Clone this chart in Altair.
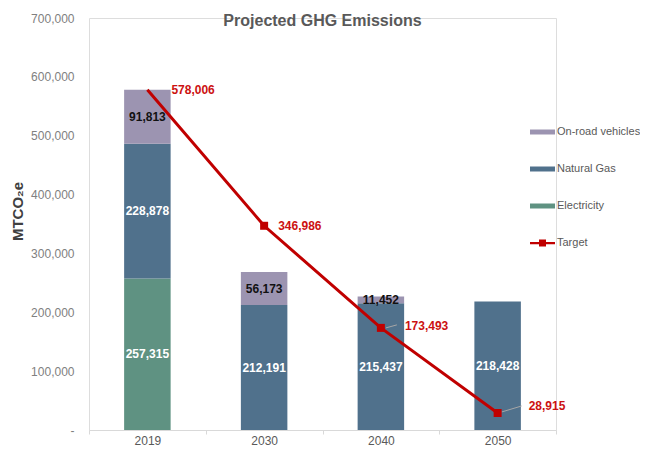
import altair as alt
import pandas as pd

# ---- data ----
years = ["2019", "2030", "2040", "2050"]
electricity = [257315, 0, 0, 0]
natural_gas = [228878, 212191, 215437, 218428]
onroad = [91813, 56173, 11452, 0]
target = [578006, 346986, 173493, 28915]

bar_series = ["On-road vehicles", "Natural Gas", "Electricity"]
bar_colors = ["#9c94b1", "#50718c", "#5f9282"]
target_color = "#c00000"
y_ticks = [0, 100000, 200000, 300000, 400000, 500000, 600000, 700000]

FONT = "Liberation Sans"

# ---- build tables ----
rows = []
for i, yr in enumerate(years):
    base = 0
    for name, vals in (("Electricity", electricity), ("Natural Gas", natural_gas), ("On-road vehicles", onroad)):
        v = vals[i]
        if v > 0:
            rows.append({"year": yr, "series": name, "value": v,
                         "lo": base, "hi": base + v, "mid": base + v / 2})
        base += v
bars_df = pd.DataFrame(rows)
target_df = pd.DataFrame({"year": years, "target": target, "series": "Target"})

x_enc = alt.X("year:N", sort=years,
              scale=alt.Scale(paddingInner=0, paddingOuter=0),
              axis=alt.Axis(title=None, labelAngle=0, tickBand="extent",
                            domainColor="#d9d9d9", tickColor="#d9d9d9", tickSize=4,
                            labelColor="#595959", labelFontSize=12, labelFont=FONT,
                            labelPadding=1))

y_scale = alt.Scale(domain=[0, 700000], nice=False)
y_axis = alt.Axis(values=y_ticks, grid=False, domain=False, ticks=False,
                  labelExpr="datum.value == 0 ? '-\u00a0\u00a0\u00a0' : format(datum.value, ',')",
                  labelPadding=15, labelColor="#808080", labelFontSize=12, labelFont=FONT,
                  title="MTCO\u2082e", titleFontSize=15, titleFontWeight="bold",
                  titleColor="#404040", titleFont=FONT, titleX=-72, titleY=193,
                  titleAngle=-90, titleAlign="center", titleBaseline="middle")

common_legend = dict(orient="none", legendX=441, title=None, padding=0,
                     symbolSize=625, labelOffset=2, labelFontSize=11,
                     labelColor="#595959", labelFont=FONT, symbolStrokeWidth=0,
                     symbolOpacity=1)

bar_legend = alt.Legend(legendY=101.5, rowPadding=19, symbolType="M-1,-0.2H1V0.2H-1Z",
                        **common_legend)
target_legend = alt.Legend(legendY=212.5, symbolFillColor=target_color, **common_legend)

color_enc = alt.Color("series:N", scale=alt.Scale(domain=bar_series, range=bar_colors),
                      legend=bar_legend)

bars = alt.Chart(bars_df).mark_bar(size=46.5).encode(
    x=x_enc,
    y=alt.Y("hi:Q", scale=y_scale, axis=y_axis),
    y2="lo:Q",
    color=color_enc,
)

lbl_white = alt.Chart(bars_df).transform_filter(
    "datum.series != 'On-road vehicles'"
).mark_text(font=FONT, fontSize=12, fontWeight="bold", color="white").encode(
    x=alt.X("year:N", sort=years), y=alt.Y("mid:Q"), text=alt.Text("value:Q", format=","))

lbl_black = alt.Chart(bars_df).transform_filter(
    "datum.series == 'On-road vehicles'"
).mark_text(font=FONT, fontSize=12, fontWeight="bold", color="#111111").encode(
    x=alt.X("year:N", sort=years), y=alt.Y("mid:Q"), text=alt.Text("value:Q", format=","))

line = alt.Chart(target_df).mark_line(strokeWidth=3, color=target_color).encode(
    x=alt.X("year:N", sort=years), y=alt.Y("target:Q"))

# invisible carrier for the Target legend entry (line with square marker)
pts = alt.Chart(target_df).transform_filter("datum.year != '2019'").mark_point(
    size=64, color=target_color, filled=True).encode(
    x=alt.X("year:N", sort=years), y=alt.Y("target:Q"),
    opacity=alt.value(0),
    shape=alt.Shape("series:N", scale=alt.Scale(
        domain=["Target"],
        range=["M-1,-0.09H1V0.09H-1Z M-0.28,-0.28H0.28V0.28H-0.28Z"]),
        legend=target_legend))

sq = alt.Chart(target_df).transform_filter("datum.year != '2019'").mark_square(
    size=64, color=target_color, opacity=1, filled=True).encode(
    x=alt.X("year:N", sort=years), y=alt.Y("target:Q"))

layers = [bars, lbl_white, lbl_black, line]

# leader lines
for yr, (xo, x2o, yo, y2o) in {"2040": (5, 16, 0, -3), "2050": (4, 24, -1, -7)}.items():
    layers.append(alt.Chart(target_df).transform_filter(f"datum.year == '{yr}'").mark_rule(
        color="#a6a6a6", strokeWidth=1, xOffset=xo, x2Offset=x2o, yOffset=yo, y2Offset=y2o).encode(
        x=alt.X("year:N", sort=years), x2="year:N", y="target:Q", y2="target:Q"))

layers.append(pts)
layers.append(sq)

# target labels
for yr, (dx, dy) in {"2019": (24, 0), "2030": (14, 0), "2040": (24, -2), "2050": (31, -7)}.items():
    layers.append(alt.Chart(target_df).transform_filter(f"datum.year == '{yr}'").mark_text(
        font=FONT, fontSize=12, fontWeight="bold", color="#cc1111",
        align="left", baseline="middle", dx=dx, dy=dy).encode(
        x=alt.X("year:N", sort=years), y="target:Q", text=alt.Text("target:Q", format=",")))

chart = alt.layer(*layers).properties(
    width=467, height=412,
    title=alt.Title("Projected GHG Emissions", fontSize=16, font=FONT, fontWeight="bold",
                    color="#595959", anchor="middle", frame="group",
                    baseline="alphabetic", offset=-30),
    autosize=alt.AutoSizeParams(type="none"),
    padding={"left": 81, "top": 10, "right": 84, "bottom": 17},
).configure_view(stroke=None).configure(background="white")

chart.save("out.html", embed_options={"renderer": "svg", "actions": False})
